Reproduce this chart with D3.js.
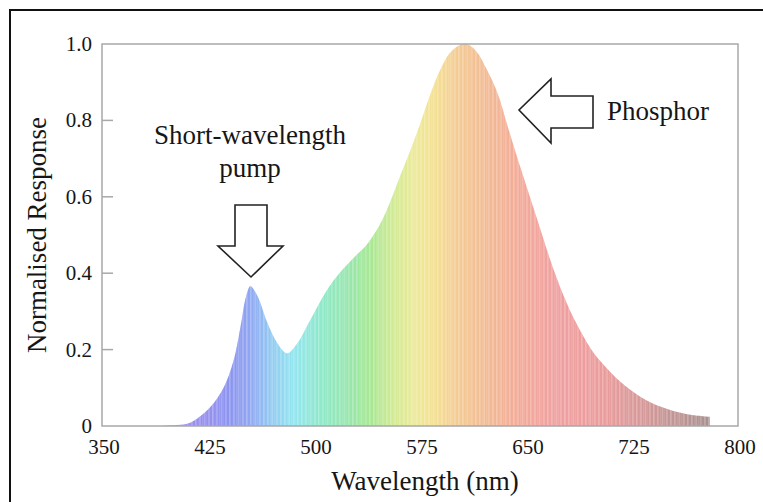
<!DOCTYPE html>
<html>
<head>
<meta charset="utf-8">
<script src="https://cdn.jsdelivr.net/npm/d3@7"></script>
<style>
  body { margin: 0; background: #fff; }
  svg text { font-family: "Liberation Serif", "Times New Roman", serif; fill: #161616; }
</style>
</head>
<body>
<svg id="chart"></svg>
<script>
// spectrum
const wavelengths = [390, 400, 412, 426, 436, 443, 448, 452, 455, 460, 467, 474, 481, 488, 497,
  509, 518, 528, 538, 547, 554, 561, 568, 575, 582, 589, 596, 603, 608, 615, 622, 630, 637,
  644, 651, 658, 669, 679, 688, 697, 707, 717, 729, 740, 752, 764, 780];
const response = [0, 0.002, 0.008, 0.047, 0.10, 0.17, 0.26, 0.34, 0.366, 0.34, 0.27, 0.217, 0.19, 0.215, 0.275,
  0.355, 0.40, 0.44, 0.478, 0.53, 0.588, 0.655, 0.72, 0.79, 0.865, 0.93, 0.976, 0.997, 1.0, 0.98, 0.935, 0.87, 0.785,
  0.70, 0.62, 0.54, 0.415, 0.32, 0.252, 0.196, 0.152, 0.115, 0.081, 0.058, 0.042, 0.031, 0.024];

const xTicks = [350, 425, 500, 575, 650, 725, 800];
const yTicks = [0, 0.2, 0.4, 0.6, 0.8, 1.0];
const yTickLabels = ['0', '0.2', '0.4', '0.6', '0.8', '1.0'];

// pale rainbow used for the fill
const colorStops = [380, 420, 440, 455, 470, 485, 505, 525, 540, 555, 570, 585, 600, 620, 645, 670, 700, 730, 760, 780];
const colorValues = ['#a090e8', '#9890ee', '#8c94f0', '#90a8f2', '#92ccf2', '#92e6f0', '#8ee8c8', '#98e6aa',
  '#a8e892', '#d0ea94', '#ecea98', '#f4e094', '#f4cc94', '#f2bc94', '#f2aa98', '#f0a0a0', '#ec9c9c',
  '#d89898', '#bc9494', '#a89090'];

const width = 763;
const height = 502;
const margin = { top: 44, right: 25, bottom: 76, left: 102 };

const svg = d3.select('#chart')
  .attr('width', width)
  .attr('height', height);

// outer black frame (right and bottom sides fall outside the picture)
svg.append('rect')
  .attr('x', 10).attr('y', 10)
  .attr('width', 770).attr('height', 510)
  .attr('fill', 'none')
  .attr('stroke', '#111')
  .attr('stroke-width', 2);

const x = d3.scaleLinear().domain([350, 800]).range([margin.left, width - margin.right]);
const y = d3.scaleLinear().domain([0, 1]).range([height - margin.bottom, margin.top]);

const points = wavelengths.map((w, i) => ({ w, v: response[i] }));

const area = d3.area()
  .x(d => x(d.w))
  .y0(y(0))
  .y1(d => y(d.v))
  .curve(d3.curveCatmullRom.alpha(0.5));

svg.append('clipPath')
  .attr('id', 'spectrum-clip')
  .append('path')
  .attr('d', area(points));

const color = d3.scaleLinear().domain(colorStops).range(colorValues);

// thin vertical strips, clipped to the curve
const strips = d3.range(385, 781, 1);
svg.append('g')
  .attr('clip-path', 'url(#spectrum-clip)')
  .selectAll('rect')
  .data(strips)
  .join('rect')
  .attr('x', d => x(d))
  .attr('y', y(1.02))
  .attr('width', x(1) - x(0) + 0.3)
  .attr('height', y(0) - y(1.02))
  .attr('fill', (d, i) => i % 3 === 1 ? d3.interpolateRgb(color(d), '#fff')(0.2) : color(d));

// plot box
svg.append('rect')
  .attr('x', x(350)).attr('y', y(1))
  .attr('width', x(800) - x(350)).attr('height', y(0) - y(1))
  .attr('fill', 'none')
  .attr('stroke', '#a8a8a8')
  .attr('stroke-width', 1.5);

// y ticks pointing inward
svg.append('g')
  .selectAll('line')
  .data(yTicks.slice(1, -1))
  .join('line')
  .attr('x1', x(350)).attr('x2', x(350) + 11)
  .attr('y1', d => y(d)).attr('y2', d => y(d))
  .attr('stroke', '#a8a8a8')
  .attr('stroke-width', 1.5);

svg.append('g')
  .selectAll('text')
  .data(yTicks)
  .join('text')
  .attr('x', 92)
  .attr('y', d => y(d) + 7)
  .attr('text-anchor', 'end')
  .style('font-size', '21px')
  .text((d, i) => yTickLabels[i]);

svg.append('g')
  .selectAll('text')
  .data(xTicks)
  .join('text')
  .attr('x', d => x(d) + 2)
  .attr('y', 454)
  .attr('text-anchor', 'middle')
  .style('font-size', '21px')
  .text(d => d);

// axis titles
svg.append('text')
  .attr('x', 425)
  .attr('y', 490)
  .attr('text-anchor', 'middle')
  .style('font-size', '27px')
  .text('Wavelength  (nm)');

svg.append('text')
  .attr('transform', `translate(46, ${y(0.5)}) rotate(-90)`)
  .attr('text-anchor', 'middle')
  .style('font-size', '27px')
  .text('Normalised Response');

// annotations
svg.append('text')
  .attr('x', 250).attr('y', 144)
  .attr('text-anchor', 'middle')
  .style('font-size', '27px')
  .text('Short-wavelength');

svg.append('text')
  .attr('x', 250).attr('y', 177)
  .attr('text-anchor', 'middle')
  .style('font-size', '27px')
  .text('pump');

svg.append('text')
  .attr('x', 607).attr('y', 120)
  .style('font-size', '27px')
  .text('Phosphor');

// hollow arrows
svg.append('path')
  .attr('d', 'M235,205 L267,205 L267,246 L283,246 L251,277 L218,246 L235,246 Z')
  .attr('fill', '#fff')
  .attr('stroke', '#222')
  .attr('stroke-width', 1.6);

svg.append('path')
  .attr('d', 'M593,96 L593,128 L551,128 L551,143 L519,110 L551,79 L551,96 Z')
  .attr('fill', '#fff')
  .attr('stroke', '#222')
  .attr('stroke-width', 1.6);
</script>
</body>
</html>
